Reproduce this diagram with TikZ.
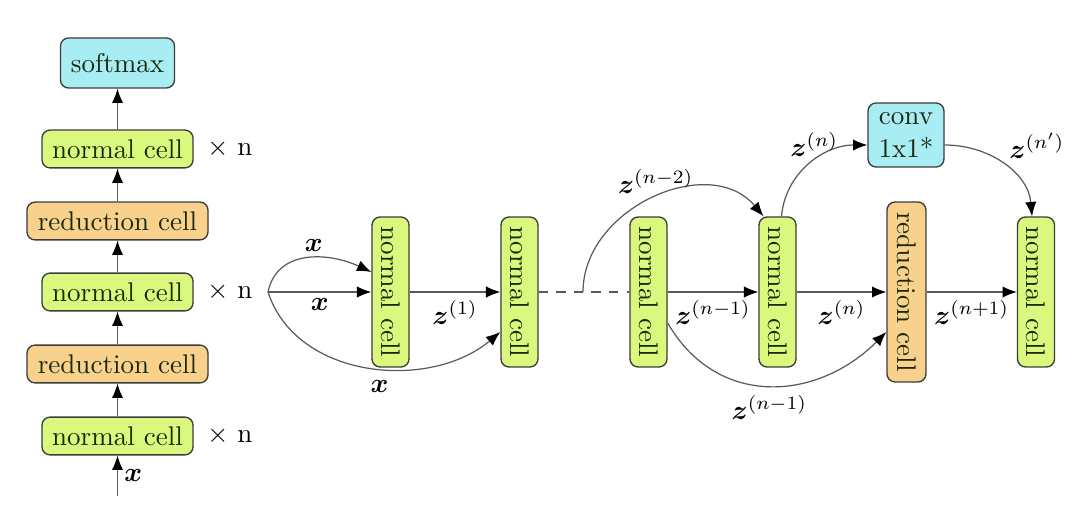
\documentclass[tikz,border=0pt]{standalone}
\usepackage{bm}
\usetikzlibrary{arrows.meta,calc}
\definecolor{cgreen}{RGB}{218,248,125}
\definecolor{corange}{RGB}{248,210,140}
\definecolor{ccyan}{RGB}{168,236,244}
\definecolor{cborder}{RGB}{60,60,60}
\definecolor{ctext}{RGB}{25,40,10}
\begin{document}
\begin{tikzpicture}[x=0.37pt,y=-0.37pt,
  box/.style={draw=cborder, rounded corners=3pt, inner xsep=3pt, inner ysep=1pt, text=ctext, line width=0.5pt},
  ncell/.style={box, fill=cgreen, minimum width=55.9pt, minimum height=14pt},
  rcell/.style={box, fill=corange, minimum width=67pt, minimum height=14pt},
  vncell/.style={box, fill=cgreen, minimum width=13.7pt, minimum height=55.5pt},
  vrcell/.style={box, fill=corange, minimum width=14.4pt, minimum height=66.6pt},
  cyanbox/.style={box, fill=ccyan, align=center},
  arr/.style={draw=black!65, line width=0.45pt, -{Latex[length=5.3pt,width=4.2pt,color=black]}},
  lbl/.style={inner sep=2pt}
]
\useasboundingbox (0,0) rectangle (1080,516);

% left column
\node[cyanbox, minimum width=42.2pt, minimum height=18.5pt] (sm) at (117.5,63) {softmax};
\node[ncell] (a5) at (117.5,149) {normal cell};
\node[rcell] (a4) at (117.5,221) {reduction cell};
\node[ncell] (a3) at (117.5,292) {normal cell};
\node[rcell] (a2) at (117.5,364) {reduction cell};
\node[ncell] (a1) at (117.5,436) {normal cell};
\coordinate (ain) at (117.5,496);
\node[right=1.5pt] at (a5.east) {$\times$ n};
\node[right=1.5pt] at (a3.east) {$\times$ n};
\node[right=1.5pt] at (a1.east) {$\times$ n};

\draw[arr] (ain) -- node[right=-1pt, pos=0.5] {$\bm{x}$} (a1.south);
\draw[arr] (a1) -- (a2);
\draw[arr] (a2) -- (a3);
\draw[arr] (a3) -- (a4);
\draw[arr] (a4) -- (a5);
\draw[arr] (a5) -- (sm);

% right part
\node[vncell] (n1) at (390.5,292) {\rotatebox{-90}{normal cell}};
\node[vncell] (n2) at (519.5,292) {\rotatebox{-90}{normal cell}};
\node[vncell] (n3) at (648.5,292) {\rotatebox{-90}{normal cell}};
\node[vncell] (n4) at (777.5,292) {\rotatebox{-90}{normal cell}};
\node[vrcell] (rc) at (906.5,292) {\rotatebox{-90}{reduction cell}};
\node[vncell] (n6) at (1036,292) {\rotatebox{-90}{normal cell}};
\node[cyanbox, minimum width=28.1pt, minimum height=23.7pt, inner sep=0.5pt] (cv) at (906,135) {conv\\1x1*};

\coordinate (inp) at (268,292);
\coordinate (arcs) at (583,292);

\draw[arr] (inp) -- node[lbl, below=0pt] {$\bm{x}$} (n1.west);
\draw[arr] (inp) to[out=78,in=155,looseness=1.1] node[lbl, pos=0.55, above=0pt] {$\bm{x}$} ($(n1.west)+(0,-20)$);
\draw[arr] (inp) to[out=-72,in=220] node[lbl, pos=0.54, below=2.5pt] {$\bm{x}$} ($(n2.west)+(0,40)$);
\draw[arr] (n1) -- node[lbl, below=1pt] {$\bm{z}^{(1)}$} (n2);
\draw[draw=black!65, line width=0.45pt, dash pattern=on 3.5pt off 3pt] (n2) -- (n3);
\draw[arr] (arcs) to[out=90,in=130,looseness=1.1] node[lbl, pos=0.35, anchor=south west, xshift=-3.3pt, yshift=7pt] {$\bm{z}^{(n-2)}$} ($(n4.north)+(-14,0)$);
\draw[arr] (n3) -- node[lbl, below=1pt] {$\bm{z}^{(n-1)}$} (n4);
\draw[arr] (n4) -- node[lbl, below=1pt] {$\bm{z}^{(n)}$} (rc);
\draw[arr] (rc) -- node[lbl, below=1pt] {$\bm{z}^{(n+1)}$} (n6);
\draw[arr] ($(n3.east)+(0,31)$) to[out=-60,in=225,looseness=1.15] node[lbl, pos=0.5, below=1.5pt] {$\bm{z}^{(n-1)}$} ($(rc.west)+(0,40)$);
\draw[arr] ($(n4.north)+(4,0)$) to[out=85,in=180] node[lbl, pos=0.55, above=-0.5pt] {$\bm{z}^{(n)}$} ($(cv.west)+(0,10)$);
\draw[arr] ($(cv.east)+(0,10)$) to[out=0,in=95] node[lbl, pos=0.5, above right=0pt] {$\bm{z}^{(n')}$} ($(n6.north)+(-4,0)$);
\end{tikzpicture}
\end{document}
